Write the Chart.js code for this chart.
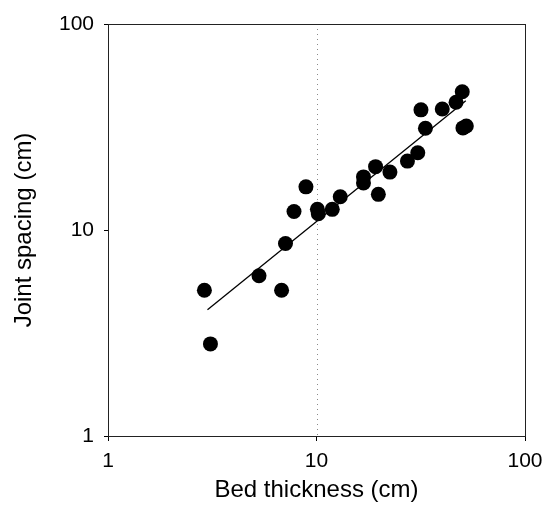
<!DOCTYPE html>
<html>
<head>
<meta charset="utf-8">
<script src="https://cdn.jsdelivr.net/npm/chart.js@4"></script>
<style>
    html, body { margin: 0; padding: 0; background: #fff; }
    #wrap { width: 544px; height: 525px; }
</style>
</head>
<body>
<div id="wrap"><canvas id="joint_chart"></canvas></div>
<script>
// ---- Data ----
const bedThickness = [2.9, 3.1, 5.3, 6.8, 7.1, 7.8, 8.9, 10.1, 10.2, 11.9, 13.0, 16.8, 16.8, 19.2, 19.8, 22.5, 27.3, 30.6, 31.7, 33.3, 40.1, 46.7, 50.0, 50.4, 52.3];
const jointSpacing = [5.1, 2.8, 6.0, 5.1, 8.6, 12.3, 16.2, 12.6, 12.0, 12.6, 14.5, 18.1, 16.9, 20.3, 14.9, 19.1, 21.6, 23.7, 38.3, 31.2, 38.7, 41.7, 46.9, 31.3, 32.0];
const fitThickness = [3, 52];
const fitSpacing = [4.1, 42.4];
const tickValues = [1, 10, 100];

const FONT = "'Liberation Sans', Arial, sans-serif";

// box round the plot area + the dotted line at x = 10
const frameBox = {
    id: "frameBox",
    beforeDatasetsDraw(chart) {
        const { ctx, chartArea: a, scales } = chart;
        ctx.save();
        const gx = Math.round(scales.x.getPixelForValue(tickValues[1])) + 0.5;
        ctx.strokeStyle = "#8a8a8a";
        ctx.lineWidth = 1;
        ctx.setLineDash([1, 4]);
        ctx.beginPath();
        ctx.moveTo(gx, a.top);
        ctx.lineTo(gx, a.bottom);
        ctx.stroke();
        ctx.setLineDash([]);
        ctx.strokeStyle = "#222";
        ctx.strokeRect(Math.round(a.left) + 0.5, Math.round(a.top) + 0.5, Math.round(a.width), Math.round(a.height));
        ctx.restore();
    },
};

new Chart(document.getElementById("joint_chart"), {
    type: "scatter",
    data: {
        datasets: [
            {
                label: "Joints",
                data: bedThickness.map((x, i) => ({ x: x, y: jointSpacing[i] })),
                pointRadius: 7.5,
                pointHoverRadius: 7.5,
                backgroundColor: "#000",
                borderColor: "#000",
                borderWidth: 0,
            },
            {
                type: "line",
                label: "Fit",
                data: fitThickness.map((x, i) => ({ x: x, y: fitSpacing[i] })),
                borderColor: "#000",
                borderWidth: 1.3,
                pointRadius: 0,
                fill: false,
                tension: 0,
            },
        ],
    },
    options: {
        responsive: true,
        maintainAspectRatio: false,
        animation: false,
        layout: { padding: { left: 0, top: 24, right: 19, bottom: 0 } },
        plugins: {
            legend: { display: false },
            tooltip: { enabled: false },
        },
        scales: {
            x: {
                type: "logarithmic",
                min: 1,
                max: 100,
                afterBuildTicks: (scale) => { scale.ticks = tickValues.map((v) => ({ value: v })); },
                afterFit: (scale) => {
                    scale.height = 89;
                    scale.paddingLeft = 0;
                    scale.paddingRight = 0;
                },
                ticks: {
                    callback: (v) => String(v),
                    color: "#000",
                    font: { family: FONT, size: 21 },
                    padding: 8,
                    maxRotation: 0,
                },
                grid: {
                    color: "rgba(0,0,0,0)",
                    tickColor: "#000",
                    tickLength: 5,
                },
                border: { color: "#000", width: 1 },
                title: {
                    display: true,
                    text: "Bed thickness (cm)",
                    color: "#000",
                    font: { family: FONT, size: 24 },
                    padding: { top: 4, bottom: 20 },
                },
            },
            y: {
                type: "logarithmic",
                min: 1,
                max: 100,
                afterBuildTicks: (scale) => { scale.ticks = tickValues.map((v) => ({ value: v })); },
                afterFit: (scale) => {
                    scale.width = 108;
                    scale.paddingTop = 0;
                    scale.paddingBottom = 0;
                },
                ticks: {
                    callback: (v) => String(v),
                    color: "#000",
                    font: { family: FONT, size: 21 },
                    padding: 10,
                },
                grid: {
                    color: "rgba(0,0,0,0)",
                    tickColor: "#000",
                    tickLength: 4,
                },
                border: { color: "#000", width: 1 },
                title: {
                    display: true,
                    text: "Joint spacing (cm)",
                    color: "#000",
                    font: { family: FONT, size: 24 },
                    padding: { top: 10, bottom: 4 },
                },
            },
        },
    },
    plugins: [frameBox],
});
</script>
</body>
</html>
